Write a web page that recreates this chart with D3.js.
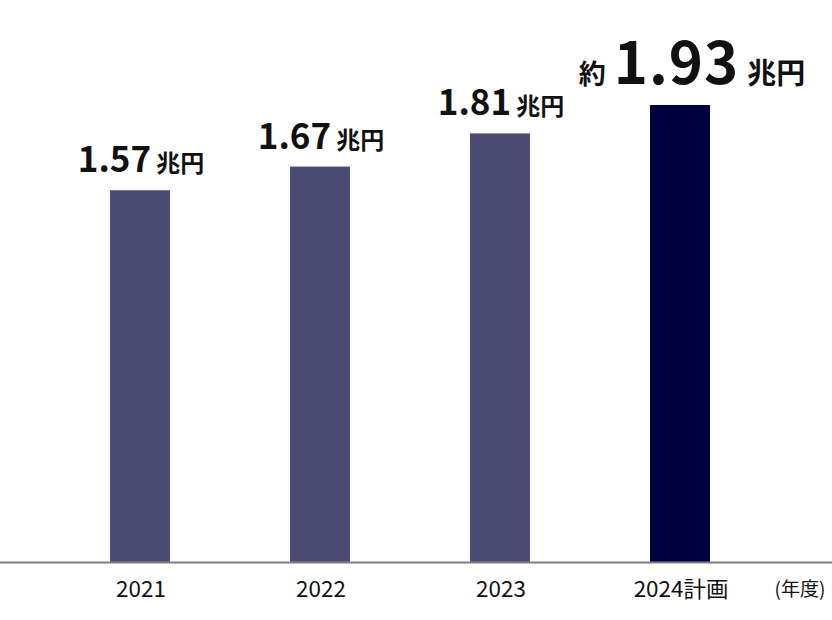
<!DOCTYPE html>
<html><head><meta charset="utf-8">
<script src="https://cdn.jsdelivr.net/npm/d3@7"></script>
<style>body{margin:0;background:#fff}svg{display:block}</style>
</head><body>
<script>
const categories = ["2021", "2022", "2023", "2024計画"];
const values = [1.57, 1.67, 1.81, 1.93];
const valueLabels = ["1.57", "1.67", "1.81", "1.93"];
const unitLabel = "兆円";
const prefixLabel = "約";
const axisUnit = "(年度)";

const W = 832, H = 620, baseY = 562;
const svg = d3.select("body").append("svg").attr("width", W).attr("height", H);
const x = d3.scaleBand().domain(categories).range([50, 770]).paddingInner(2/3).paddingOuter(1/3);
const y = d3.scaleLinear().domain([0, 1.93]).range([baseY, 105]);
const colors = ["#4c4b74", "#4c4b74", "#4c4b74", "#000040"];
const font = "'Noto Sans CJK JP', 'Noto Sans', sans-serif";

svg.selectAll("rect.bar").data(values).enter().append("rect")
  .attr("x", (d, i) => x(categories[i]))
  .attr("y", d => y(d))
  .attr("width", x.bandwidth())
  .attr("height", d => baseY - y(d))
  .attr("fill", (d, i) => colors[i]);

const axis = svg.append("g").attr("transform", `translate(0,${baseY})`)
  .call(d3.axisBottom(x).tickSize(0).tickPadding(0));
axis.select(".domain").remove();
axis.append("line").attr("x1", 0).attr("x2", W).attr("y1", 0.5).attr("y2", 0.5)
  .attr("stroke", "#7f7f7f").attr("stroke-width", 2);
axis.selectAll(".tick text").remove();
axis.selectAll(".tick").append("text")
  .attr("text-anchor", "middle")
  .attr("transform", "translate(1,35) scale(1.02,1)")
  .attr("font-family", font).attr("font-size", 22).attr("fill", "#111")
  .text(d => d);
svg.append("text").attr("transform", `translate(800,${baseY + 34})`)
  .attr("text-anchor", "middle").attr("font-family", font).attr("font-size", 19).attr("fill", "#111")
  .text(axisUnit);

// value labels
values.forEach((v, i) => {
  const big = i === 3;
  const cx = x(categories[i]) + x.bandwidth() / 2 + (big ? 12 : 1);
  const t = svg.append("text")
    .attr("x", cx).attr("y", y(v) - (big ? 21 : 18))
    .attr("text-anchor", "middle")
    .attr("font-family", font).attr("font-weight", 700).attr("fill", "#111");
  if (big) {
    t.append("tspan").attr("font-size", 27).text(prefixLabel);
    t.append("tspan").attr("font-size", 58).attr("dx", 8).attr("letter-spacing", 1).text(valueLabels[i]);
    t.append("tspan").attr("font-size", 29).attr("dx", 8).text(unitLabel);
  } else {
    t.append("tspan").attr("font-size", 35).text(valueLabels[i]);
    t.append("tspan").attr("font-size", 24).attr("dx", 5).text(unitLabel);
  }
});
</script>
</body></html>
